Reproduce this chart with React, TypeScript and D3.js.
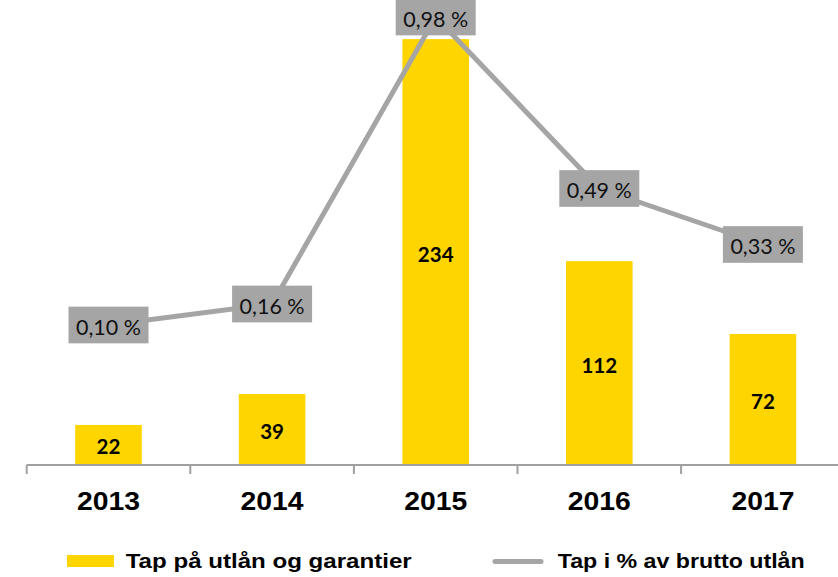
import React from "react";
import * as d3 from "d3";

const years = ["2013", "2014", "2015", "2016", "2017"];
const losses = [22, 39, 234, 112, 72];
const lossPct = [0.1, 0.16, 0.98, 0.49, 0.33];
const pctLabels = ["0,10 %", "0,16 %", "0,98 %", "0,49 %", "0,33 %"];
const legendLabels = ["Tap på utlån og garantier", "Tap i % av brutto utlån"];

const W = 838;
const H = 577;
const plotTop = 10;
const plotBottom = 465;
const xStart = 26.7;
const step = 163.6;

const BAR = "#FFD500";
const GREY = "#A5A5A5";

export default function App() {
  const x = d3
    .scaleBand<string>()
    .domain(years)
    .range([xStart, xStart + step * years.length])
    .paddingInner(0)
    .paddingOuter(0);
  const y = d3.scaleLinear().domain([0, 250]).range([plotBottom, plotTop]);
  const y2 = d3.scaleLinear().domain([-0.3, 1.0]).range([plotBottom, plotTop]);
  const bw = x.bandwidth();
  const barW = bw * 0.407;
  const cx = (c: string) => (x(c) as number) + bw / 2;

  const line = d3
    .line<number>()
    .x((_, i) => cx(years[i]))
    .y((d) => y2(d));

  const boxW = 80;
  const boxH = 36.7;

  return (
    <svg
      width={W}
      height={H}
      style={{ position: "absolute", left: 0, top: 0, background: "#fff" }}
    >
      {/* bars */}
      {years.map((c, i) => (
        <rect
          key={c}
          x={cx(c) - barW / 2}
          y={y(losses[i])}
          width={barW}
          height={plotBottom - y(losses[i])}
          fill={BAR}
        />
      ))}
      {/* bar labels */}
      {years.map((c, i) => (
        <text
          key={"bl" + c}
          x={cx(c)}
          y={(y(losses[i]) + plotBottom) / 2 + 1.5}
          textAnchor="middle"
          dominantBaseline="central"
          fontFamily="Lato, 'Open Sans', sans-serif"
          fontWeight="bold"
          fontSize={20.5}
          fill="#000"
        >
          {losses[i]}
        </text>
      ))}
      {/* axis */}
      <line x1={xStart} x2={W} y1={plotBottom} y2={plotBottom} stroke="#A0A0A0" strokeWidth={2} />
      {years.map((c) => (
        <line
          key={"t" + c}
          x1={x(c) as number}
          x2={x(c) as number}
          y1={plotBottom}
          y2={plotBottom + 9}
          stroke="#A0A0A0"
          strokeWidth={2}
        />
      ))}
      {years.map((c) => (
        <text
          key={"xl" + c}
          x={cx(c)}
          y={510}
          textAnchor="middle"
          fontFamily="'Liberation Sans', Arial, sans-serif"
          fontWeight="bold"
          fontSize={25.5}
          textLength={63}
          lengthAdjust="spacingAndGlyphs"
          fill="#000"
        >
          {c}
        </text>
      ))}
      {/* line */}
      <path
        d={line(lossPct) || ""}
        fill="none"
        stroke={GREY}
        strokeWidth={5}
        strokeLinejoin="round"
      />
      {/* line labels */}
      {years.map((c, i) => (
        <g key={"pl" + c}>
          <rect
            x={cx(c) - boxW / 2}
            y={y2(lossPct[i]) - boxH / 2}
            width={boxW}
            height={boxH}
            fill={GREY}
          />
          <text
            x={cx(c)}
            y={y2(lossPct[i]) + 1.5}
            textAnchor="middle"
            dominantBaseline="central"
            fontFamily="Lato, 'Open Sans', sans-serif"
            fontSize={21.5}
            fill="#111"
          >
            {pctLabels[i]}
          </text>
        </g>
      ))}
      {/* legend */}
      <rect x={67} y={555} width={47} height={12} fill={BAR} />
      <text
        x={125.7}
        y={568}
        fontFamily="'Liberation Sans', Arial, sans-serif"
        fontWeight="bold"
        fontSize={21}
        textLength={286}
        lengthAdjust="spacingAndGlyphs"
        fill="#000"
      >
        {legendLabels[0]}
      </text>
      <line x1={495} x2={541} y1={561.5} y2={561.5} stroke={GREY} strokeWidth={5} strokeLinecap="round" />
      <text
        x={557.7}
        y={568}
        fontFamily="'Liberation Sans', Arial, sans-serif"
        fontWeight="bold"
        fontSize={21}
        textLength={247}
        lengthAdjust="spacingAndGlyphs"
        fill="#000"
      >
        {legendLabels[1]}
      </text>
    </svg>
  );
}
